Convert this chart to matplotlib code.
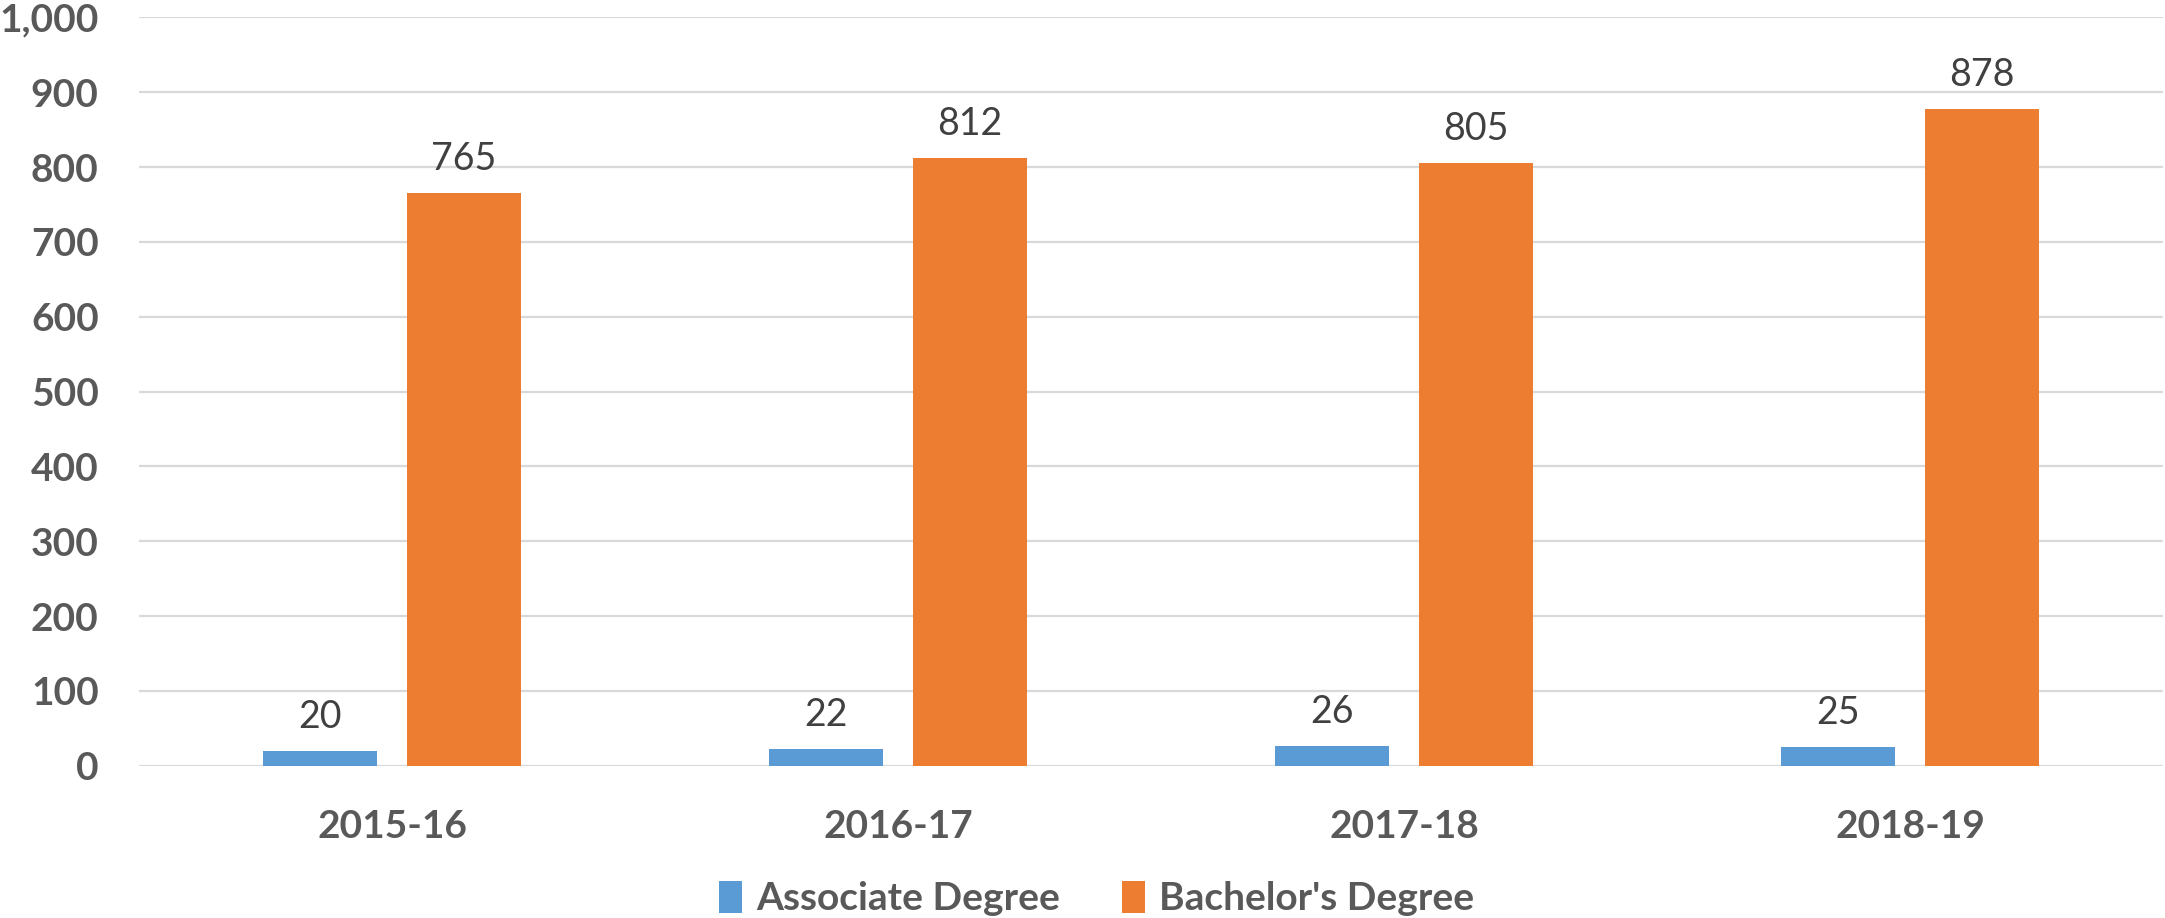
import numpy as np
import matplotlib
matplotlib.use('Agg')
import matplotlib.pyplot as plt

years = ['2015-16', '2016-17', '2017-18', '2018-19']
associate = [20, 22, 26, 25]
bachelor = [765, 812, 805, 878]
yticks = [0, 100, 200, 300, 400, 500, 600, 700, 800, 900, 1000]

plt.rcParams['font.family'] = ['Lato', 'DejaVu Sans']

fig = plt.figure(figsize=(21.65, 9.18), dpi=100)
ax = fig.add_axes([0.0642, 0.1659, 0.9349, 0.8151])

x = np.arange(len(years))
w = 0.225
off = 0.142
b1 = ax.bar(x - off, associate, w, color='#5B9BD5', label='Associate Degree', zorder=3)
b2 = ax.bar(x + off, bachelor, w, color='#ED7D31', label="Bachelor's Degree", zorder=3)

# value labels
for bars in (b1, b2):
    for r in bars:
        ax.annotate(f'{int(r.get_height())}',
                    (r.get_x() + r.get_width() / 2, r.get_height()),
                    xytext=(0, 16.5), textcoords='offset points',
                    ha='center', va='baseline', fontsize=27, color='#404040')

ax.set_xlim(-0.5, 3.5)
ax.set_ylim(0, 1000)
ax.set_yticks(yticks)
ax.set_yticklabels([f'{v:,}' for v in yticks])
ax.set_xticks(x)
ax.set_xticklabels(years)
ax.tick_params(axis='y', length=0, pad=29, labelsize=28, labelcolor='#595959')
ax.tick_params(axis='x', length=0, pad=31, labelsize=28, labelcolor='#595959')
for lab in ax.get_xticklabels() + ax.get_yticklabels():
    lab.set_fontweight('bold')

ax.grid(axis='y', color='#D9D9D9', linewidth=1.6, zorder=0)
for s in ax.spines.values():
    s.set_visible(False)

fig.legend(loc='center', bbox_to_anchor=(0.5065, 0.021), ncol=2, frameon=False,
           prop={'size': 28, 'weight': 'bold'}, labelcolor='#595959',
           handlelength=0.6, handleheight=0.9, handletextpad=0.35, columnspacing=1.6)

fig.savefig('out.png', dpi=100)
